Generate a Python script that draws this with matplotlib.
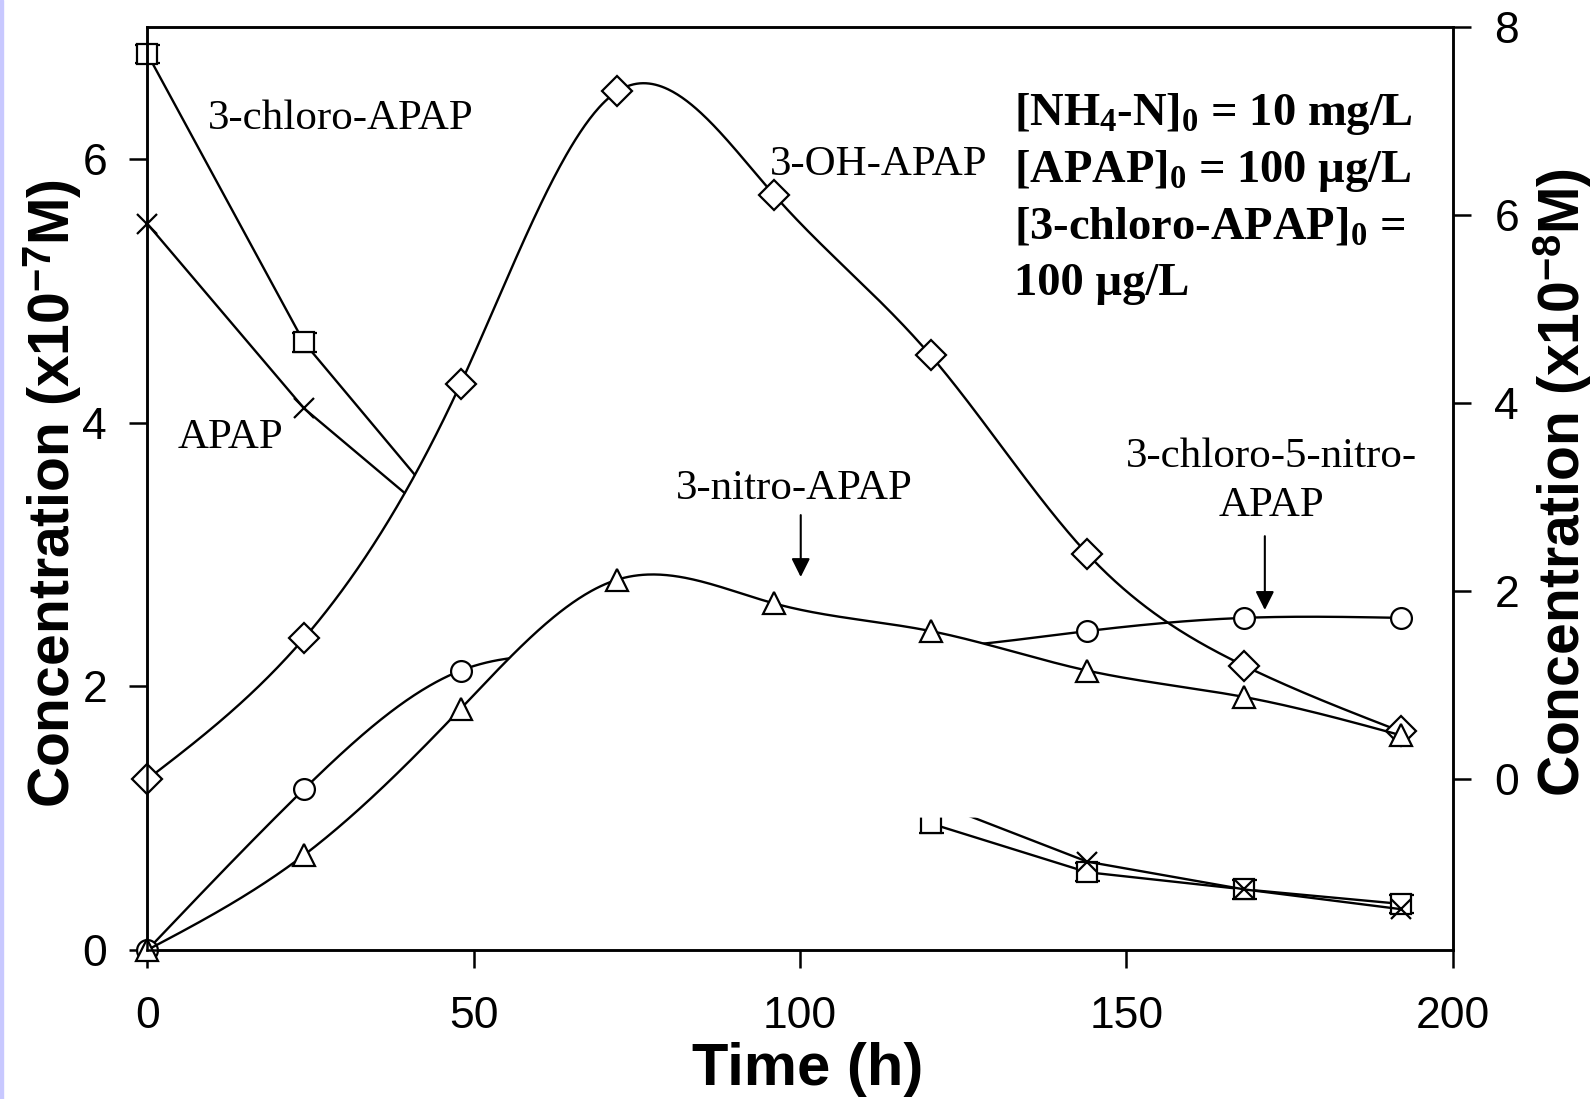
import numpy as np
import matplotlib
matplotlib.use("Agg")
import matplotlib.pyplot as plt
from matplotlib import font_manager
from matplotlib.patches import Rectangle

# ---------------- data ----------------
t = [0, 24, 48, 72, 96, 120, 144, 168, 192]
nan = np.nan
# left axis (x10^-7 M)
chloro_apap = [6.80, 4.61, 3.19, nan, nan, 0.96, 0.59, 0.46, 0.35]   # squares
chloro_err = [0.07, 0.07, 0.07, nan, nan, 0.07, 0.07, 0.07, 0.07]
apap = [5.51, 4.11, 3.11, nan, nan, 1.13, 0.67, 0.46, 0.31]          # crosses
nitro_apap = [0.0, 0.72, 1.83, 2.81, 2.63, 2.42, 2.12, 1.92, 1.63]   # triangles
chloro_nitro = [0.0, 1.22, 2.12, 2.22, 2.26, 2.29, 2.42, 2.52, 2.52]  # circles
# right axis (x10^-8 M)
oh_apap = [0.0, 1.50, 4.21, 7.32, 6.22, 4.51, 2.40, 1.21, 0.51]      # diamonds

xticks = [0, 50, 100, 150, 200]
yticks_left = [0, 2, 4, 6]
yticks_right = [0, 2, 4, 6, 8]
mask_level = 1.01  # level below which the hidden curve areas stop


def natural_spline(x, y, xs):
    x = np.asarray(x, float)
    y = np.asarray(y, float)
    n = len(x)
    h = np.diff(x)
    A = np.zeros((n, n))
    r = np.zeros(n)
    A[0, 0] = A[-1, -1] = 1.0
    for i in range(1, n - 1):
        A[i, i - 1] = h[i - 1]
        A[i, i] = 2 * (h[i - 1] + h[i])
        A[i, i + 1] = h[i]
        r[i] = 3 * ((y[i + 1] - y[i]) / h[i] - (y[i] - y[i - 1]) / h[i - 1])
    c = np.linalg.solve(A, r)
    b = (y[1:] - y[:-1]) / h - h * (2 * c[:-1] + c[1:]) / 3
    d = (c[1:] - c[:-1]) / (3 * h)
    idx = np.clip(np.searchsorted(x, xs) - 1, 0, n - 2)
    dx = xs - x[idx]
    return y[idx] + b[idx] * dx + c[idx] * dx ** 2 + d[idx] * dx ** 3


names = {f.name for f in font_manager.fontManager.ttflist}
NARROW = "Liberation Sans Narrow" if "Liberation Sans Narrow" in names else "Liberation Sans"
ylab_size = 50 if NARROW == "Liberation Sans Narrow" else 41

plt.rcParams["font.family"] = ["Liberation Sans", "DejaVu Sans"]
plt.rcParams["mathtext.fontset"] = "custom"
plt.rcParams["mathtext.rm"] = "Liberation Serif:bold"
plt.rcParams["mathtext.bf"] = "Liberation Serif:bold"
plt.rcParams["mathtext.it"] = "Liberation Serif:bold"
plt.rcParams["mathtext.sf"] = NARROW + ":bold"

fig = plt.figure(figsize=(15.93, 10.99), dpi=100)
ax = fig.add_axes([0.0925, 0.1356, 0.912 - 0.0925, 0.975 - 0.1356])
ax2 = ax.twinx()
ax.set_xlim(0, 200)
ax.set_ylim(0, 7.0)
ax2.set_xlim(0, 200)
ax2.set_ylim(-1.816, 8.0)

ts = np.linspace(0, 192, 800)
LW = 1.7
MEW = 1.6

# squares & crosses (bottom layer)
ax.errorbar(t, chloro_apap, yerr=chloro_err, fmt="none", ecolor="k",
            elinewidth=1.2, capsize=9, capthick=1.6, zorder=1, clip_on=False)
ax.plot(t, chloro_apap, "-", color="k", lw=LW, zorder=1.1)
ax.plot(t, chloro_apap, "s", ms=14, mfc="white", mec="k", mew=MEW, zorder=1.2,
        clip_on=False)
ax.plot(t, apap, "-", color="k", lw=LW, zorder=1.3)
ax.plot(t, apap, "x", color="k", ms=15, mew=MEW, zorder=1.4, clip_on=False)

# 3-OH-APAP (right axis units) : white area under the curve hides lines behind it
oh_s = natural_spline(t, oh_apap, ts)
base_r = np.full_like(ts, mask_level * (9.816 / 7.0) - 1.816)
ax.fill_between(ts, oh_s, base_r, where=oh_s >= base_r, interpolate=True,
                color="white", lw=0, zorder=2, transform=ax2.transData)

# circles
cn_s = natural_spline(t, chloro_nitro, ts)
ax.plot(ts, cn_s, "-", color="k", lw=LW, zorder=3)
ax.plot(t, chloro_nitro, "o", ms=15, mfc="white", mec="k", mew=MEW, zorder=3.1,
        clip_on=False)

# triangles
tr_s = natural_spline(t, nitro_apap, ts)
ax.fill_between(ts, tr_s, mask_level, where=tr_s >= mask_level, interpolate=True,
                color="white", lw=0, zorder=4)
ax.plot(ts, tr_s, "-", color="k", lw=LW, zorder=6)
ax.plot(t, nitro_apap, "^", ms=16, mfc="white", mec="k", mew=MEW, zorder=6.1,
        clip_on=False)

# diamonds
ax.plot(ts, oh_s, "-", color="k", lw=LW, zorder=5, transform=ax2.transData)
ax.plot(t, oh_apap, "D", ms=15.5, mfc="white", mec="k", mew=MEW, zorder=5.1,
        transform=ax2.transData, clip_on=False)

# ---------------- axes styling ----------------
for a in (ax, ax2):
    for s in a.spines.values():
        s.set_linewidth(1.8)
ax.set_xticks(xticks)
ax.set_yticks(yticks_left)
ax2.set_yticks(yticks_right)
ax.tick_params(axis="both", direction="out", length=13, width=1.8, labelsize=32)
ax.tick_params(axis="x", pad=20)
ax.tick_params(axis="y", pad=16)
ax2.tick_params(axis="y", direction="out", length=13, width=1.8, labelsize=32, pad=17)

fig.text(0.0335, 0.551, r"Concentration (x10$^{\mathsf{-7}}$M)", rotation=90,
         ha="center", va="center", fontsize=ylab_size, fontweight="bold", family=NARROW)
fig.text(0.981, 0.561, r"Concentration (x10$^{\mathsf{-8}}$M)", rotation=90,
         ha="center", va="center", fontsize=ylab_size, fontweight="bold", family=NARROW)
fig.text(0.507, 0.027, "Time (h)", ha="center", va="center", fontsize=43,
         fontweight="bold")

# ---------------- annotations ----------------
serif = dict(family="Liberation Serif", fontsize=31, color="k", zorder=10)
ax.text(9.3, 6.31, "3-chloro-APAP", ha="left", va="center", **serif)
ax.text(4.7, 3.89, "APAP", ha="left", va="center", **serif)
ax.text(95.3, 5.96, "3-OH-APAP", ha="left", va="center", **serif)
ax.text(99.1, 3.50, "3-nitro-APAP", ha="center", va="center", **serif)
ax.text(172.2, 3.74, "3-chloro-5-nitro-", ha="center", va="center", **serif)
ax.text(172.2, 3.37, "APAP", ha="center", va="center", **serif)

arrow = dict(arrowstyle="-|>", color="k", lw=1.5, mutation_scale=28,
             shrinkA=0, shrinkB=0)
ax.annotate("", xy=(100.1, 2.83), xytext=(100.1, 3.30), arrowprops=arrow, zorder=10)
ax.annotate("", xy=(171.2, 2.58), xytext=(171.2, 3.14), arrowprops=arrow, zorder=10)

bold = dict(family="Liberation Serif", fontsize=33.5, fontweight="bold", color="k",
            ha="left", va="baseline", zorder=10)
ax.text(132.8, 6.26, r"[NH$_4$-N]$_0$ = 10 mg/L", **bold)
ax.text(132.8, 5.83, r"[APAP]$_0$ = 100 µg/L", **bold)
ax.text(132.8, 5.40, r"[3-chloro-APAP]$_0$ =", **bold)
ax.text(132.8, 4.97, "100 µg/L", **bold)

fig.patches.append(Rectangle((0, 0), 2.5 / 1593, 1, transform=fig.transFigure,
                             color="#c8c8ff", zorder=0))

fig.savefig("out.png", dpi=100)
